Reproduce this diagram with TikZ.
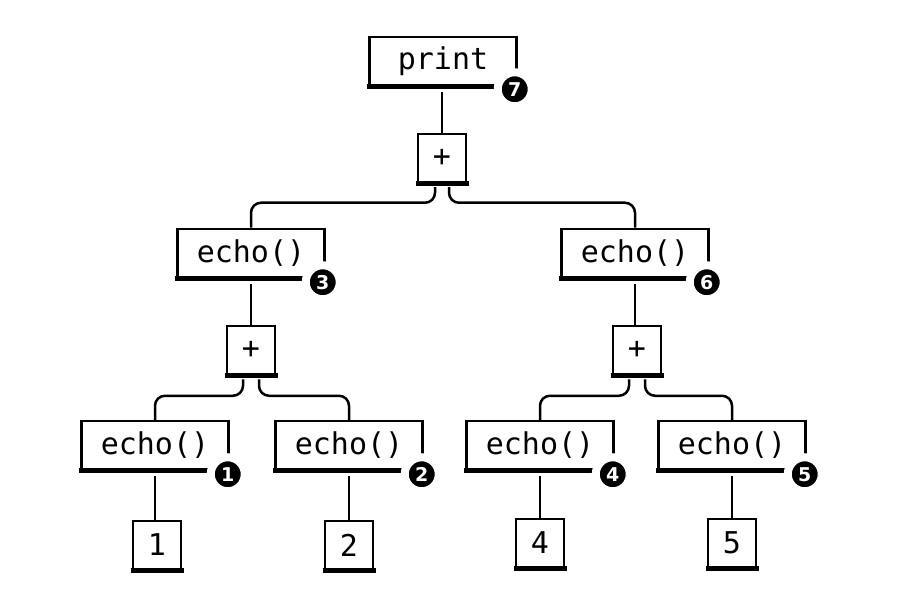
\documentclass[tikz,border=0pt]{standalone}
\usepackage{fontspec}
\setmonofont{DejaVu Sans Mono}
\newfontfamily\badgefont{DejaVu Sans}
\begin{document}
\begin{tikzpicture}[x=1pt,y=-1pt,line width=2.5pt,
    call/.style={draw,fill=white,minimum width=147pt,minimum height=48pt,inner sep=0pt,font=\ttfamily\fontsize{30}{32}\selectfont},
    op/.style={draw,fill=white,minimum size=48pt,inner sep=0pt,font=\ttfamily\fontsize{30}{32}\selectfont},
    badge/.style={circle,fill=black,draw=white,line width=8pt,minimum size=34pt,inner sep=0pt,text=white,font=\badgefont\bfseries\fontsize{19}{19}\selectfont},
    link/.style={shorten <=6pt},
    fork/.style={rounded corners=10pt,shorten <=4pt}]
    \useasboundingbox (0,0) rectangle (904,609);
    % top
    \node[call] (pr) at (443,61) {print};
    \node[op] (p0) at (442,158) {+};
    % left half
    \node[call] (e3) at (251,253) {echo()};
    \node[op] (p1) at (251,350) {+};
    \node[call] (e1) at (155,445) {echo()};
    \node[call] (e2) at (349,445) {echo()};
    \node[op] (l1) at (157,545) {1};
    \node[op] (l2) at (349,545) {2};
    % right half
    \node[call] (e6) at (635,253) {echo()};
    \node[op] (p2) at (637,350) {+};
    \node[call] (e4) at (540,445) {echo()};
    \node[call] (e5) at (732,445) {echo()};
    \node[op] (l4) at (540,543) {4};
    \node[op] (l5) at (732,543) {5};
    % heavy bottom edges
    \foreach \n in {pr,p0,e3,p1,e1,e2,l1,l2,e6,p2,e4,e5,l4,l5}
        \draw[line width=5pt] ([xshift=-1.25pt]\n.south west) -- ([xshift=1.25pt]\n.south east);
    % links
    \draw[link] (p0 |- pr.south) -- (p0);
    \draw[link] (e3) -- (e3 |- p1.north);
    \draw[link] (e6) -- (e6 |- p2.north);
    \draw[link] (e1) -- (e1 |- l1.north);
    \draw[link] (e2) -- (e2 |- l2.north);
    \draw[link] (e4) -- (e4 |- l4.north);
    \draw[link] (e5) -- (e5 |- l5.north);
    \draw[fork] ([xshift=-7pt]p0.south) |- ([yshift=25pt]e3.north) -- (e3.north);
    \draw[fork] ([xshift=7pt]p0.south) |- ([yshift=25pt]e6.north) -- (e6.north);
    \draw[fork] ([xshift=-8pt]p1.south) |- ([yshift=24pt]e1.north) -- (e1.north);
    \draw[fork] ([xshift=8pt]p1.south) |- ([yshift=24pt]e2.north) -- (e2.north);
    \draw[fork] ([xshift=-8pt]p2.south) |- ([yshift=24pt]e4.north) -- (e4.north);
    \draw[fork] ([xshift=8pt]p2.south) |- ([yshift=24pt]e5.north) -- (e5.north);
    % order of evaluation
    \node[badge] (n7) at ([xshift=-3pt,yshift=-3pt]pr.south east) {7};
    \node[badge] (n3) at ([xshift=-3pt,yshift=-4pt]e3.south east) {3};
    \node[badge] (n6) at ([xshift=-3pt,yshift=-4pt]e6.south east) {6};
    \node[badge] (n1) at ([xshift=-2pt,yshift=-4pt]e1.south east) {1};
    \node[badge] (n2) at ([xshift=-2pt,yshift=-4pt]e2.south east) {2};
    \node[badge] (n4) at ([xshift=-2pt,yshift=-4pt]e4.south east) {4};
    \node[badge] (n5) at ([xshift=-2pt,yshift=-4pt]e5.south east) {5};
\end{tikzpicture}
\end{document}
